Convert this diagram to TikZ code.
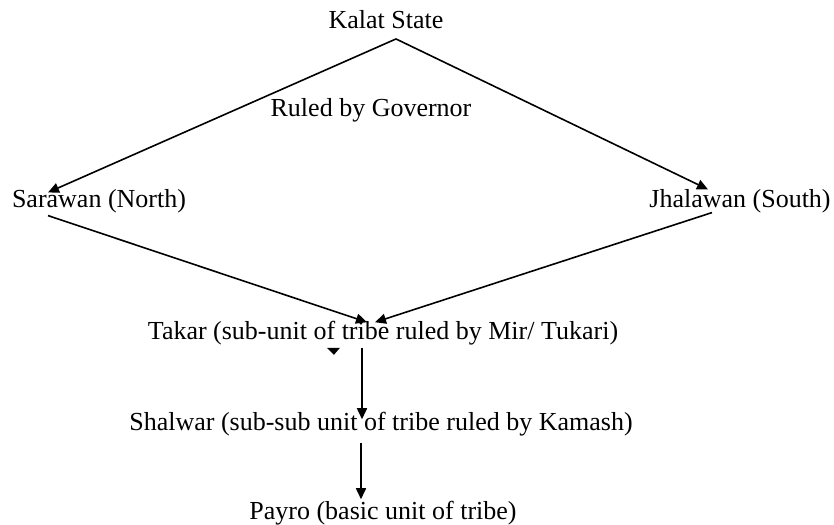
\documentclass[tikz,border=0pt]{standalone}
\usepackage{fontspec}
\setmainfont{Liberation Serif}
\usetikzlibrary{arrows.meta,calc}
\begin{document}
\begin{tikzpicture}[x=0.5pt,y=-0.5pt,line width=0.8pt,font=\fontsize{13}{15}\selectfont,
  lvl/.style={inner sep=0pt},
  link/.style={-{Triangle[length=5.5pt,width=5pt]}}]
\useasboundingbox (0,0) rectangle (834,524);
\node[lvl] (kalat) at (386,20) {Kalat State};
\node[lvl] (ruled) at (371,110) {Ruled by Governor};
\node[lvl] (sarawan) at (99,201) {Sarawan (North)};
\node[lvl] (jhalawan) at (740,201) {Jhalawan (South)};
\node[lvl] (takar) at (383,333) {Takar (sub-unit of tribe ruled by Mir/ Tukari)};
\node[lvl] (shalwar) at (381,424) {Shalwar (sub-sub unit of tribe ruled by Kamash)};
\node[lvl] (payro) at (383,513) {Payro (basic unit of tribe)};
\coordinate (apex) at ($(kalat.south)+(10,9)$);
\draw[link] (apex) -- ($(sarawan.north)+(-51,4)$);
\draw[link] (apex) -- ($(jhalawan.north)+(-32,1)$);
\draw[link] ($(sarawan.south)+(-51,2)$) -- ($(takar.north)+(-16,2)$);
\draw[link] ($(jhalawan.south)+(-28,-1)$) -- ($(takar.north)+(-8,2)$);
\draw[link] ($(takar.south)+(-21,2)$) -- ($(shalwar.north)+(-19,8)$);
\draw[link] ($(shalwar.south)+(-20,6)$) -- ($(payro.north)+(-22,-1)$);
% stray tip under Takar
\fill ($(takar.south)+(-56,2)$) -- ++(13,0) -- ++(-6,7) -- cycle;
\end{tikzpicture}
\end{document}
